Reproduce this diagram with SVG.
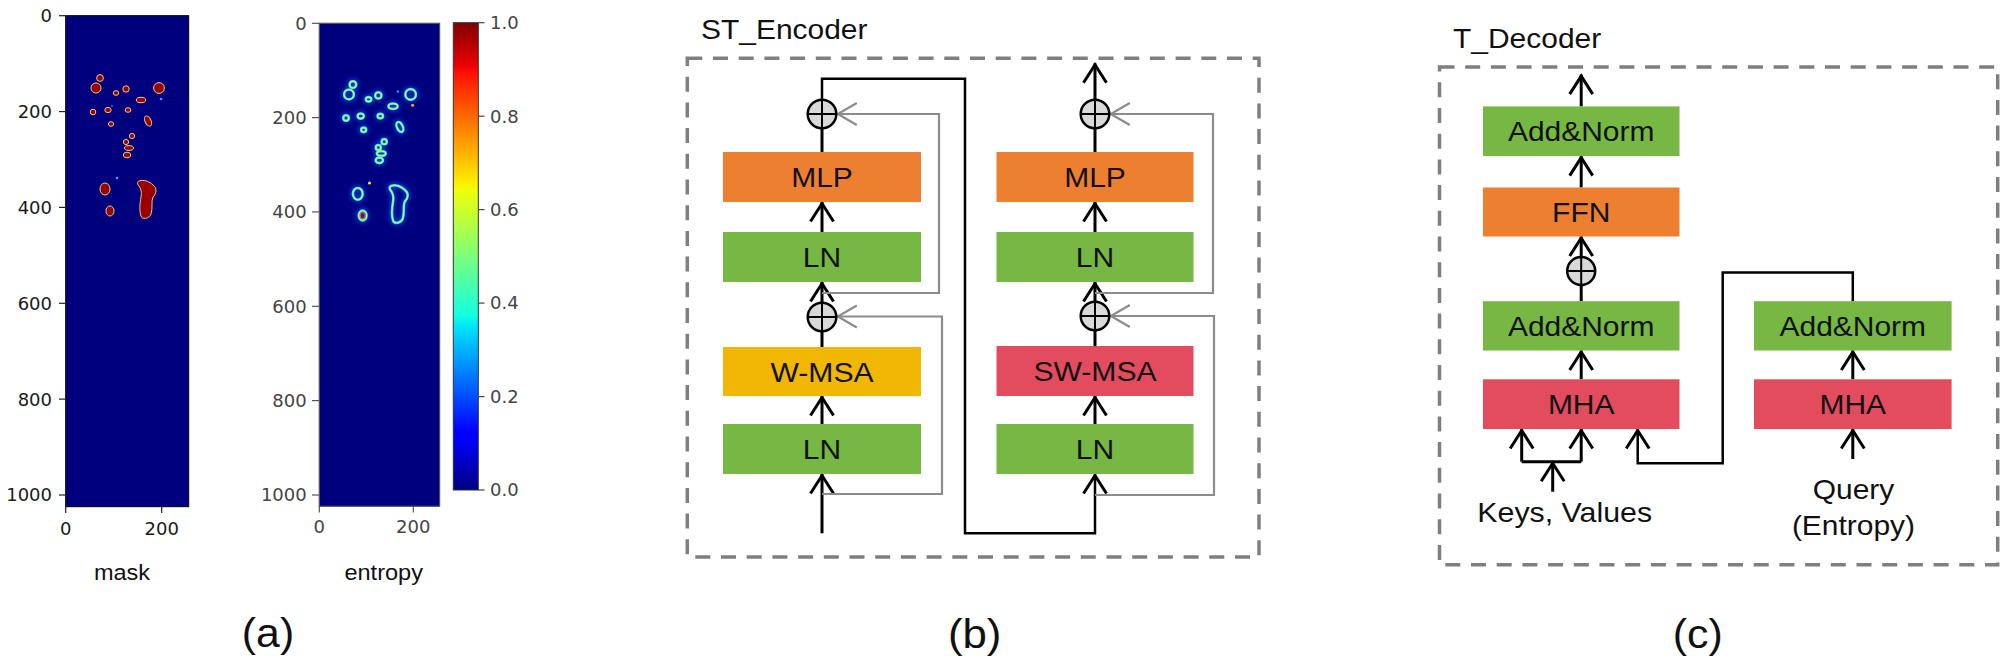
<svg xmlns="http://www.w3.org/2000/svg" xmlns:xlink="http://www.w3.org/1999/xlink" width="2007" height="660" viewBox="0 0 2007 660">
<defs>
<style>
text{font-family:"Liberation Sans",Arial,sans-serif;fill:#111}
.lbl{font-size:28px;text-anchor:middle}
.ttl{font-size:28px}
.pl{font-size:40px;text-anchor:middle}
.cap{font-size:22px;text-anchor:middle}
.tk{font-family:"DejaVu Sans",sans-serif;font-size:18px;fill:#1a1a1a}
.tk2{font-family:"DejaVu Sans",sans-serif;font-size:18px;fill:#444}
.te{text-anchor:end}
.tm{text-anchor:middle}
.green{fill:#76B843}
.orange{fill:#ED7F31}
.yellow{fill:#F2B705}
.red{fill:#E34B5E}
.dash{fill:none;stroke:#7F7F7F;stroke-width:3.5;stroke-dasharray:15 10.7}
.arr{fill:none;stroke:#000;stroke-width:3;marker-end:url(#ah)}
.ln{fill:none;stroke:#000;stroke-width:3}
.conn{fill:none;stroke:#000;stroke-width:2.5}
.skip{fill:none;stroke:#8C8C8C;stroke-width:2.2;marker-end:url(#gh)}
.sum circle{fill:#D9D9D9;stroke:#000;stroke-width:2.5}
.sum path{fill:none;stroke:#000;stroke-width:2}
.tick{stroke:#222;stroke-width:1.2}
</style>
<marker id="ah" markerUnits="userSpaceOnUse" viewBox="-22 -14 26 28" markerWidth="26" markerHeight="28" refX="1.5" refY="0" orient="auto" overflow="visible">
<path d="M-18,-11.5 L0,0 L-18,11.5" fill="none" stroke="#000" stroke-width="3"/>
</marker>
<marker id="gh" markerUnits="userSpaceOnUse" viewBox="-22 -14 26 28" markerWidth="26" markerHeight="28" refX="1" refY="0" orient="auto" overflow="visible">
<path d="M-19,-11 L0,0 L-19,11" fill="none" stroke="#8C8C8C" stroke-width="2.2"/>
</marker>
<linearGradient id="jet" x1="0" y1="1" x2="0" y2="0">
<stop offset="0" stop-color="#000080"/>
<stop offset="0.11" stop-color="#0000FF"/>
<stop offset="0.125" stop-color="#0000FF"/>
<stop offset="0.34" stop-color="#00DBFF"/>
<stop offset="0.35" stop-color="#00E6F7"/>
<stop offset="0.375" stop-color="#14FFE2"/>
<stop offset="0.5" stop-color="#7BFF7B"/>
<stop offset="0.64" stop-color="#EFFF08"/>
<stop offset="0.66" stop-color="#FFEC00"/>
<stop offset="0.89" stop-color="#FF1300"/>
<stop offset="0.91" stop-color="#E80000"/>
<stop offset="1" stop-color="#800000"/>
</linearGradient>
<filter id="blur" x="-20%" y="-20%" width="140%" height="140%"><feGaussianBlur stdDeviation="2"/></filter>
<clipPath id="clipE"><rect x="319.3" y="23.3" width="120.3" height="483"/></clipPath>
<g id="blobs">
<circle cx="100" cy="78" r="3.4"/>
<circle cx="96" cy="88" r="5"/>
<ellipse cx="116" cy="93" rx="2.8" ry="2.3"/>
<circle cx="126" cy="89" r="3.2"/>
<circle cx="159" cy="88" r="5.4"/>
<ellipse cx="141" cy="100" rx="4.7" ry="2.7"/>
<circle cx="93" cy="112" r="2.8"/>
<ellipse cx="108" cy="110" rx="3.2" ry="2.6"/>
<ellipse cx="128" cy="110" rx="2.8" ry="2.3"/>
<ellipse cx="148" cy="121" rx="3" ry="5.4" transform="rotate(-25 148 121)"/>
<ellipse cx="111" cy="124" rx="2.6" ry="2.3"/>
<circle cx="132" cy="136" r="2.6"/>
<circle cx="126" cy="142" r="2.6"/>
<ellipse cx="129" cy="148" rx="4.5" ry="2.4"/>
<ellipse cx="127" cy="155" rx="3.7" ry="2.8"/>
<ellipse cx="105" cy="189" rx="5" ry="6"/>
<ellipse cx="110" cy="211" rx="4" ry="5"/>
<path d="M139,181 C144,179 150,182 153,185 C157,188 157,193 153,197 C151,201 153,208 151,214 C149,219 142,220 141,216 C139,210 140,203 141,197 C142,192 141,189 139,186 C137,184 137,182 139,181 Z"/>
</g>
</defs>

<rect x="0" y="0" width="2007" height="660" fill="#fff"/>

<!-- Panel (a): mask -->
<g id="plot-mask">
<rect x="65.7" y="15.7" width="122.9" height="490.9" fill="#00007F" stroke="#111" stroke-width="1.2"/>
<use xlink:href="#blobs" href="#blobs" fill="#9A0000" stroke="#E3CF86" stroke-width="1"/>
<circle cx="117" cy="178" r="1.3" fill="#3aa0ff"/>
<circle cx="161" cy="99" r="1.3" fill="#3aa0ff"/>
<circle cx="112" cy="106" r="0.9" fill="#2a70ff"/>
<g class="tick">
<line x1="59" y1="15.7" x2="65.7" y2="15.7"/>
<line x1="59" y1="111.6" x2="65.7" y2="111.6"/>
<line x1="59" y1="207.4" x2="65.7" y2="207.4"/>
<line x1="59" y1="303.3" x2="65.7" y2="303.3"/>
<line x1="59" y1="399.1" x2="65.7" y2="399.1"/>
<line x1="59" y1="495" x2="65.7" y2="495"/>
<line x1="65.7" y1="506.6" x2="65.7" y2="513"/>
<line x1="161.7" y1="506.6" x2="161.7" y2="513"/>
</g>
<text class="tk te" x="52" y="22">0</text>
<text class="tk te" x="52" y="118">200</text>
<text class="tk te" x="52" y="213.8">400</text>
<text class="tk te" x="52" y="309.7">600</text>
<text class="tk te" x="52" y="405.5">800</text>
<text class="tk te" x="52" y="501.4">1000</text>
<text class="tk tm" x="65.7" y="535">0</text>
<text class="tk tm" x="161.7" y="535">200</text>
<text class="cap" x="122" y="580" textLength="56.2" lengthAdjust="spacingAndGlyphs">mask</text>
</g>

<!-- Panel (a): entropy -->
<g id="plot-entropy">
<rect x="319.3" y="23.3" width="120.3" height="483" fill="#00007F"/>
<g clip-path="url(#clipE)">
<g transform="translate(319.3,23.3) scale(0.979,0.984) translate(-65.7,-15.7)">
<use xlink:href="#blobs" href="#blobs" fill="none" stroke="#1f5cff" stroke-width="6" opacity="0.55" filter="url(#blur)"/>
<use xlink:href="#blobs" href="#blobs" fill="none" stroke="#33d6ff" stroke-width="2.6"/>
<use xlink:href="#blobs" href="#blobs" fill="none" stroke="#b4ff5a" stroke-width="1.3"/>
<ellipse cx="110" cy="211" rx="2.6" ry="3.3" fill="none" stroke="#ff5a1e" stroke-width="1.2"/>
<circle cx="117" cy="178" r="1.6" fill="#e8e040"/>
<circle cx="161" cy="99" r="1.6" fill="#ff9a20"/>
<circle cx="146" cy="85" r="1.2" fill="#3090ff"/>
</g>
</g>
<rect x="319.3" y="23.3" width="120.3" height="483" fill="none" stroke="#555" stroke-width="1.2"/>
<g class="tick" style="stroke:#555">
<line x1="312" y1="23.3" x2="319.3" y2="23.3"/>
<line x1="312" y1="117.6" x2="319.3" y2="117.6"/>
<line x1="312" y1="211.9" x2="319.3" y2="211.9"/>
<line x1="312" y1="306.3" x2="319.3" y2="306.3"/>
<line x1="312" y1="400.6" x2="319.3" y2="400.6"/>
<line x1="312" y1="495" x2="319.3" y2="495"/>
<line x1="319.3" y1="506.3" x2="319.3" y2="512.5"/>
<line x1="413.3" y1="506.3" x2="413.3" y2="512.5"/>
</g>
<text class="tk2 te" x="306.7" y="29.6">0</text>
<text class="tk2 te" x="306.7" y="123.9">200</text>
<text class="tk2 te" x="306.7" y="218.2">400</text>
<text class="tk2 te" x="306.7" y="312.6">600</text>
<text class="tk2 te" x="306.7" y="406.9">800</text>
<text class="tk2 te" x="306.7" y="501.3">1000</text>
<text class="tk2 tm" x="319.3" y="532.7">0</text>
<text class="tk2 tm" x="413.3" y="532.7">200</text>
<text class="cap" x="383.7" y="580" textLength="78.5" lengthAdjust="spacingAndGlyphs">entropy</text>
</g>

<!-- Colorbar -->
<g id="colorbar">
<rect x="453.3" y="22.7" width="25" height="467.3" fill="url(#jet)" stroke="#333" stroke-width="1"/>
<g class="tick" style="stroke:#444">
<line x1="478.3" y1="22.7" x2="484.5" y2="22.7"/>
<line x1="478.3" y1="116.2" x2="484.5" y2="116.2"/>
<line x1="478.3" y1="209.6" x2="484.5" y2="209.6"/>
<line x1="478.3" y1="303.1" x2="484.5" y2="303.1"/>
<line x1="478.3" y1="396.6" x2="484.5" y2="396.6"/>
<line x1="478.3" y1="490" x2="484.5" y2="490"/>
</g>
<text class="tk2" x="490" y="29">1.0</text>
<text class="tk2" x="490" y="122.5">0.8</text>
<text class="tk2" x="490" y="215.9">0.6</text>
<text class="tk2" x="490" y="309.4">0.4</text>
<text class="tk2" x="490" y="402.9">0.2</text>
<text class="tk2" x="490" y="496.3">0.0</text>
</g>

<text class="pl" x="268" y="647" textLength="52.3" lengthAdjust="spacingAndGlyphs">(a)</text>
<text class="pl" x="974.7" y="648" textLength="53.5" lengthAdjust="spacingAndGlyphs">(b)</text>
<text class="pl" x="1697.7" y="648" textLength="50" lengthAdjust="spacingAndGlyphs">(c)</text>

<!-- Panel (b): ST_Encoder -->
<g id="st-encoder">
<text class="ttl" x="701" y="39" textLength="166.5" lengthAdjust="spacingAndGlyphs">ST_Encoder</text>
<rect class="dash" x="687.3" y="58.3" width="571.7" height="498.7"/>
</g>

<!-- Panel (c): T_Decoder -->
<g id="t-decoder">
<text class="ttl" x="1453" y="47.8" textLength="148.2" lengthAdjust="spacingAndGlyphs">T_Decoder</text>
<rect class="dash" x="1439.5" y="67" width="558.2" height="497.8"/>
</g>

<!-- Connectors -->
<g id="connectors">
<!-- encoder left column -->
<line class="arr" x1="822" y1="533.3" x2="822" y2="474"/>
<line class="arr" x1="822" y1="424" x2="822" y2="396"/>
<line class="ln" x1="822" y1="347" x2="822" y2="317"/>
<line class="arr" x1="822" y1="317" x2="822" y2="282"/>
<line class="arr" x1="822" y1="232" x2="822" y2="202"/>
<line class="ln" x1="822" y1="152" x2="822" y2="114"/>
<path class="skip" d="M822,494 H942 V316.5 H836.8"/>
<path class="skip" d="M822,293 H939 V114 H836.8"/>
<path class="conn" d="M822,114 V78.7 H965 V533.3 H1095 V474" marker-end="url(#ah)"/>
<!-- encoder right column -->
<line class="arr" x1="1095" y1="424" x2="1095" y2="396"/>
<line class="ln" x1="1095" y1="346" x2="1095" y2="316"/>
<line class="arr" x1="1095" y1="316" x2="1095" y2="282"/>
<line class="arr" x1="1095" y1="232" x2="1095" y2="202"/>
<line class="ln" x1="1095" y1="152" x2="1095" y2="114"/>
<line class="arr" x1="1095" y1="114" x2="1095" y2="63.3"/>
<path class="skip" d="M1095,495 H1214 V316 H1109.8"/>
<path class="skip" d="M1095,293 H1213 V114 H1109.8"/>
<!-- decoder -->
<line class="arr" x1="1581.2" y1="106.4" x2="1581.2" y2="74.6"/>
<line class="arr" x1="1581.2" y1="187.5" x2="1581.2" y2="156.1"/>
<line class="arr" x1="1581.2" y1="271" x2="1581.2" y2="236.5"/>
<line class="ln" x1="1581.2" y1="301.2" x2="1581.2" y2="271"/>
<line class="arr" x1="1581.2" y1="379.3" x2="1581.2" y2="350.5"/>
<path class="ln" d="M1521.7,461.7 H1581.2"/>
<line class="arr" x1="1521.7" y1="461.7" x2="1521.7" y2="429"/>
<line class="arr" x1="1581.2" y1="461.7" x2="1581.2" y2="429"/>
<line class="arr" x1="1552.7" y1="491.7" x2="1552.7" y2="461.7"/>
<path class="conn" d="M1852.8,301.2 V272.5 H1722.7 V463.3 H1637.7 V429" marker-end="url(#ah)"/>
<line class="arr" x1="1852.8" y1="379.3" x2="1852.8" y2="350.5"/>
<line class="arr" x1="1852.8" y1="459" x2="1852.8" y2="429"/>
</g>

<!-- Encoder nodes -->
<g id="st-ln1"><rect class="green" x="723" y="424" width="198" height="50"/><text class="lbl" x="822" y="459" textLength="38.3" lengthAdjust="spacingAndGlyphs">LN</text></g>
<g id="st-wmsa"><rect class="yellow" x="723" y="347" width="198" height="49"/><text class="lbl" x="822" y="381.5" textLength="103.2" lengthAdjust="spacingAndGlyphs">W-MSA</text></g>
<g id="st-sum1" class="sum"><circle cx="822" cy="317" r="14.3"/><path d="M807.7,317 H836.3 M822,302.7 V331.3"/></g>
<g id="st-ln2"><rect class="green" x="723" y="232" width="198" height="50"/><text class="lbl" x="822" y="267" textLength="38.3" lengthAdjust="spacingAndGlyphs">LN</text></g>
<g id="st-mlp1"><rect class="orange" x="723" y="152" width="198" height="50"/><text class="lbl" x="822" y="187" textLength="61.6" lengthAdjust="spacingAndGlyphs">MLP</text></g>
<g id="st-sum2" class="sum"><circle cx="822" cy="114" r="14.3"/><path d="M807.7,114 H836.3 M822,99.7 V128.3"/></g>

<g id="st-ln3"><rect class="green" x="996.5" y="424" width="197" height="50"/><text class="lbl" x="1095" y="459" textLength="38.3" lengthAdjust="spacingAndGlyphs">LN</text></g>
<g id="st-swmsa"><rect class="red" x="996.5" y="346" width="197" height="50"/><text class="lbl" x="1095" y="381" textLength="123.2" lengthAdjust="spacingAndGlyphs">SW-MSA</text></g>
<g id="st-sum3" class="sum"><circle cx="1095" cy="316" r="14.3"/><path d="M1080.7,316 H1109.3 M1095,301.7 V330.3"/></g>
<g id="st-ln4"><rect class="green" x="996.5" y="232" width="197" height="50"/><text class="lbl" x="1095" y="267" textLength="38.3" lengthAdjust="spacingAndGlyphs">LN</text></g>
<g id="st-mlp2"><rect class="orange" x="996.5" y="152" width="197" height="50"/><text class="lbl" x="1095" y="187" textLength="61.6" lengthAdjust="spacingAndGlyphs">MLP</text></g>
<g id="st-sum4" class="sum"><circle cx="1095" cy="114" r="14.3"/><path d="M1080.7,114 H1109.3 M1095,99.7 V128.3"/></g>

<!-- Decoder nodes -->
<g id="dec-addnorm3"><rect class="green" x="1483" y="106.4" width="196.5" height="49.7"/><text class="lbl" x="1581.2" y="141.3" textLength="146.5" lengthAdjust="spacingAndGlyphs">Add&amp;Norm</text></g>
<g id="dec-ffn"><rect class="orange" x="1483" y="187.5" width="196.5" height="49"/><text class="lbl" x="1581.2" y="222" textLength="58.2" lengthAdjust="spacingAndGlyphs">FFN</text></g>
<g id="dec-sum" class="sum"><circle cx="1581.2" cy="271" r="14"/><path d="M1567.2,271 H1595.2 M1581.2,257 V285"/></g>
<g id="dec-addnorm1"><rect class="green" x="1483" y="301.2" width="196.5" height="49.3"/><text class="lbl" x="1581.2" y="335.8" textLength="146.5" lengthAdjust="spacingAndGlyphs">Add&amp;Norm</text></g>
<g id="dec-mha1"><rect class="red" x="1483" y="379.3" width="196.5" height="49.7"/><text class="lbl" x="1581.2" y="414.2" textLength="66.6" lengthAdjust="spacingAndGlyphs">MHA</text></g>
<g id="dec-addnorm2"><rect class="green" x="1754" y="301.2" width="197.6" height="49.3"/><text class="lbl" x="1852.8" y="335.8" textLength="146.5" lengthAdjust="spacingAndGlyphs">Add&amp;Norm</text></g>
<g id="dec-mha2"><rect class="red" x="1754" y="379.3" width="197.6" height="49.7"/><text class="lbl" x="1852.8" y="414.2" textLength="66.6" lengthAdjust="spacingAndGlyphs">MHA</text></g>
<g id="dec-keys"><text class="lbl" x="1564.7" y="521.7" textLength="174.8" lengthAdjust="spacingAndGlyphs">Keys, Values</text></g>
<g id="dec-query"><text class="lbl" x="1853.5" y="499.4" textLength="81.6" lengthAdjust="spacingAndGlyphs">Query</text><text class="lbl" x="1853.5" y="535" textLength="123.2" lengthAdjust="spacingAndGlyphs">(Entropy)</text></g>
</svg>
